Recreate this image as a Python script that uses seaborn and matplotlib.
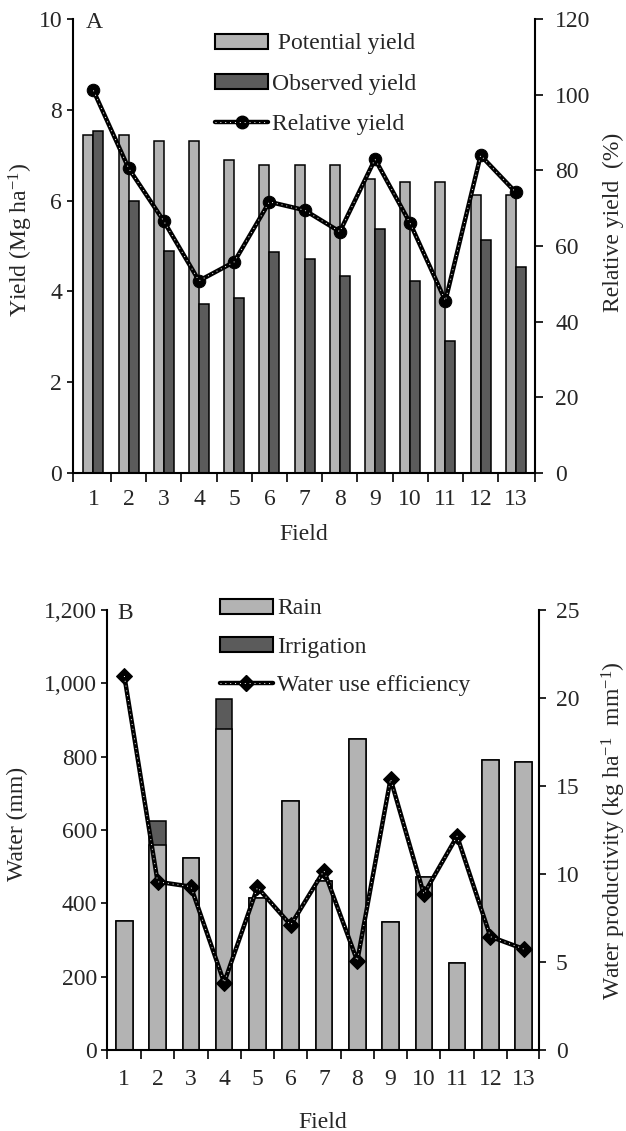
import numpy as np
import pandas as pd
import matplotlib
matplotlib.use("Agg")
import matplotlib.pyplot as plt
import seaborn as sns
from matplotlib.patches import Patch
from matplotlib.lines import Line2D
from matplotlib.ticker import FuncFormatter

# ---------------- data ----------------
fields = [str(i) for i in range(1, 14)]
potential_yield = [7.45, 7.45, 7.32, 7.32, 6.90, 6.78, 6.78, 6.78, 6.48, 6.42, 6.42, 6.12, 6.12]
observed_yield = [7.54, 5.99, 4.88, 3.72, 3.85, 4.86, 4.71, 4.33, 5.37, 4.24, 2.91, 5.13, 4.53]
relative_yield = [101.2, 80.6, 66.6, 50.8, 55.8, 71.7, 69.5, 63.8, 83.0, 66.0, 45.5, 84.0, 74.2]
rain = [353, 558, 523, 875, 414, 678, 462, 847, 348, 473, 238, 791, 785]
irrigation = [0, 66, 0, 82, 0, 0, 0, 0, 0, 0, 0, 0, 0]
water_use_eff = [21.25, 9.56, 9.28, 3.83, 9.24, 7.10, 10.19, 5.06, 15.40, 8.86, 12.15, 6.44, 5.74]

# ---------------- style ----------------
sns.set_style("ticks")
plt.rcParams["font.family"] = ["Liberation Serif", "DejaVu Serif"]
plt.rcParams["mathtext.fontset"] = "custom"
plt.rcParams["mathtext.rm"] = "Liberation Serif"
plt.rcParams["mathtext.it"] = "Liberation Serif:italic"
plt.rcParams["mathtext.bf"] = "Liberation Serif:bold"

FS = 17
LIGHT = "#b3b3b3"
DARK = "#5b5b5b"
W, H = 626, 1131

fig = plt.figure(figsize=(W / 100, H / 100), dpi=100)


def rect(l, r, t, b):
    return [l / W, 1 - b / H, (r - l) / W, (b - t) / H]


def fx(x):
    return x / W


def fy(y):
    return 1 - y / H


def style_pair(ax, ax2, xl, xr, ylim, yticks, ylim2, yticks2, lpad, rpad, xpad, rlen):
    n = len(fields)
    ax.set_xlim(xl, xr)
    bounds = [xl] + list(np.arange(0.5, n - 1, 1.0)) + [xr]
    ax.set_xticks(bounds)
    ax.set_xticklabels([])
    ax.set_xticks(np.arange(n), minor=True)
    ax.set_xticklabels(fields, minor=True)
    ax.tick_params(axis="x", which="major", direction="out", length=6.5, width=1.4)
    ax.tick_params(axis="x", which="minor", length=0, pad=xpad, labelsize=FS)
    ax.set_ylim(*ylim)
    ax.set_yticks(yticks)
    ax.tick_params(axis="y", direction="out", length=4, width=1.4, pad=lpad, labelsize=FS)
    ax2.set_ylim(*ylim2)
    ax2.set_yticks(yticks2)
    ax2.tick_params(axis="y", direction="out", length=rlen, width=1.4, pad=rpad, labelsize=FS)
    for a in (ax, ax2):
        a.spines["top"].set_visible(False)
        for s in ("left", "right", "bottom"):
            a.spines[s].set_linewidth(1.5)
            a.spines[s].set_color("black")
        a.set_xlabel("")
        a.set_ylabel("")
    ax.spines["right"].set_visible(False)
    ax2.spines["left"].set_visible(False)
    ax2.spines["bottom"].set_visible(False)


xpos = np.arange(len(fields))

# ---------------- Panel A ----------------
axA = fig.add_axes(rect(73.3, 534.5, 19.4, 472.7))
dfA = pd.DataFrame({
    "Field": fields * 2,
    "Yield": potential_yield + observed_yield,
    "Type": ["Potential yield"] * len(fields) + ["Observed yield"] * len(fields),
})
sns.barplot(data=dfA, x="Field", y="Yield", hue="Type",
            hue_order=["Potential yield", "Observed yield"],
            palette={"Potential yield": LIGHT, "Observed yield": DARK},
            width=0.57, saturation=1, edgecolor="black", linewidth=1.1,
            errorbar=None, legend=False, ax=axA)
axA2 = axA.twinx()
sns.lineplot(x=xpos, y=relative_yield, ax=axA2, color="black", linewidth=3.2,
             marker="o", markersize=9, markeredgecolor="black", legend=False)
axA2.plot(xpos, relative_yield, color="white", linewidth=0.7, linestyle=(0, (1, 4)))
style_pair(axA, axA2, -0.57, 12.53, (0, 10), range(0, 11, 2), (0, 120), range(0, 121, 20),
           lpad=4, rpad=9, xpad=12, rlen=6)

hA = [Patch(facecolor=LIGHT, edgecolor="black", linewidth=1.5),
      Patch(facecolor=DARK, edgecolor="black", linewidth=1.5),
      (Line2D([], [], color="black", linewidth=3.2, marker="o", markersize=9),
       Line2D([], [], color="white", linewidth=0.7, linestyle=(0, (1, 4))))]
axA2.legend(hA, [" Potential yield", "Observed yield", "Relative yield"],
            loc="upper left", bbox_to_anchor=(fx(215), fy(33.5)), bbox_transform=fig.transFigure,
            frameon=False, borderpad=0, borderaxespad=0, fontsize=FS,
            handlelength=2.25, handleheight=0.6, handletextpad=0.15, labelspacing=0.81,
            numpoints=1)

fig.text(fx(86), fy(28), "A", fontsize=FS, ha="left", va="baseline")
fig.text(fx(21), fy(240), "Yield (Mg ha$^{\\mathregular{-1}}$)", fontsize=FS,
         rotation=90, ha="center", va="center")
fig.text(fx(613), fy(222), "Relative yield  (%)", fontsize=FS,
         rotation=90, ha="center", va="center")
fig.text(fx(304), fy(540), "Field", fontsize=FS, ha="center", va="baseline")

# ---------------- Panel B ----------------
axB = fig.add_axes(rect(106.7, 539.3, 610, 1050))
total_water = [r + i for r, i in zip(rain, irrigation)]
sns.barplot(x=fields, y=total_water, color=DARK, width=0.5, saturation=1,
            edgecolor="black", linewidth=1.1, errorbar=None, ax=axB)
sns.barplot(x=fields, y=rain, color=LIGHT, width=0.5, saturation=1,
            edgecolor="black", linewidth=1.1, errorbar=None, ax=axB)
axB2 = axB.twinx()
sns.lineplot(x=xpos, y=water_use_eff, ax=axB2, color="black", linewidth=3.2,
             marker="D", markersize=8, markeredgecolor="black", legend=False)
axB2.plot(xpos, water_use_eff, color="white", linewidth=0.7, linestyle=(0, (1, 4)))
style_pair(axB, axB2, -0.53, 12.47, (0, 1200), range(0, 1201, 200), (0, 25), range(0, 26, 5),
           lpad=3, rpad=7, xpad=14, rlen=5)
axB.yaxis.set_major_formatter(FuncFormatter(lambda v, p: f"{int(v):,}"))

hB = [Patch(facecolor=LIGHT, edgecolor="black", linewidth=1.5),
      Patch(facecolor=DARK, edgecolor="black", linewidth=1.5),
      (Line2D([], [], color="black", linewidth=3.2, marker="D", markersize=8),
       Line2D([], [], color="white", linewidth=0.7, linestyle=(0, (1, 4))))]
axB2.legend(hB, ["Rain", "Irrigation", "Water use efficiency"],
            loc="upper left", bbox_to_anchor=(fx(220), fy(598.5)), bbox_transform=fig.transFigure,
            frameon=False, borderpad=0, borderaxespad=0, fontsize=FS,
            handlelength=2.23, handleheight=0.6, handletextpad=0.2, labelspacing=0.73,
            numpoints=1)

fig.text(fx(117), fy(619), "B", fontsize=FS, ha="left", va="baseline")
fig.text(fx(17), fy(824), "Water (mm)", fontsize=FS, rotation=90, ha="center", va="center")
fig.text(fx(614), fy(831),
         "Water productivity (kg ha$^{\\mathregular{-1}}$  mm$^{\\mathregular{-1}}$)",
         fontsize=FS, rotation=90, ha="center", va="center")
fig.text(fx(323), fy(1128), "Field", fontsize=FS, ha="center", va="baseline")

fig.savefig("out.png", dpi=100)
